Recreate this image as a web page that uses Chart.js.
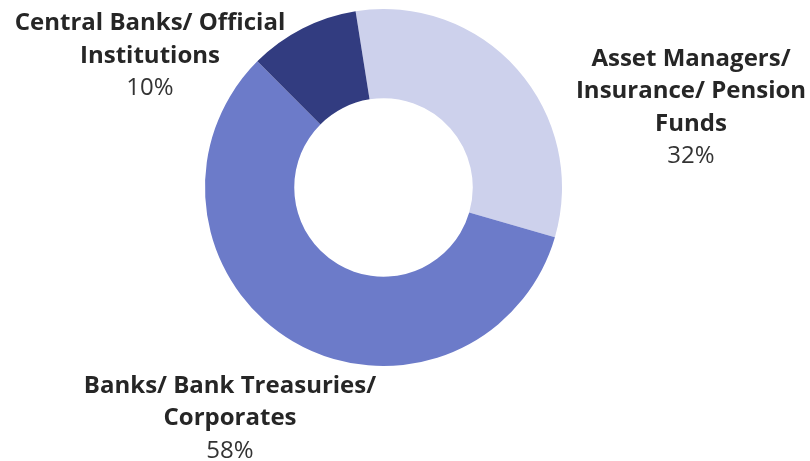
<!DOCTYPE html>
<html>
<head>
<meta charset="utf-8">
<script src="https://cdn.jsdelivr.net/npm/chart.js@4/dist/chart.umd.min.js"></script>
<style>
  html, body { margin: 0; padding: 0; background: #ffffff; }
  #wrap { position: relative; width: 810px; height: 461px; }
</style>
</head>
<body>
<div id="wrap"><canvas id="c" width="810" height="461"></canvas></div>
<script>
// Holder segments, in drawing order (clockwise from the top)
const categories = [
  ['Asset Managers/', 'Insurance/ Pension', 'Funds'],
  ['Banks/ Bank Treasuries/', 'Corporates'],
  ['Central Banks/ Official', 'Institutions']
];
const shares = [32, 58, 10];
const shareLabels = ['32%', '58%', '10%'];
const sliceColors = ['#cdd1ec', '#6c7bc9', '#323c80'];

// Where each label block sits (centre x, first baseline y)
const labelAnchors = [
  { x: 691, y: 65.5 },
  { x: 230, y: 392.5 },
  { x: 150, y: 30 }
];

const LINE_H = 32.5;

const labelPlugin = {
  id: 'blockLabels',
  afterDraw(chart) {
    const ctx = chart.ctx;
    ctx.save();
    ctx.textAlign = 'center';
    ctx.textBaseline = 'alphabetic';
    categories.forEach((lines, i) => {
      const a = labelAnchors[i];
      let y = a.y;
      ctx.font = 'bold 24px "Open Sans"';
      ctx.fillStyle = '#262626';
      lines.forEach(line => {
        ctx.fillText(line, a.x, y);
        y += LINE_H;
      });
      ctx.font = '24px "Open Sans"';
      ctx.fillStyle = '#333333';
      ctx.fillText(shareLabels[i], a.x, y);
    });
    ctx.restore();
  }
};

function draw() {
  new Chart(document.getElementById('c'), {
    type: 'doughnut',
    data: {
      labels: categories.map(l => l.join(' ')),
      datasets: [{
        data: shares,
        backgroundColor: sliceColors,
        borderWidth: 0,
        hoverOffset: 0
      }]
    },
    options: {
      responsive: false,
      animation: false,
      cutout: '50%',
      rotation: -9,
      layout: { padding: { top: 9, bottom: 95, left: 205, right: 248 } },
      plugins: {
        legend: { display: false },
        tooltip: { enabled: false }
      }
    },
    plugins: [labelPlugin]
  });
}

Promise.all([
  document.fonts.load('bold 24px "Open Sans"'),
  document.fonts.load('24px "Open Sans"')
]).then(draw, draw);
</script>
</body>
</html>
